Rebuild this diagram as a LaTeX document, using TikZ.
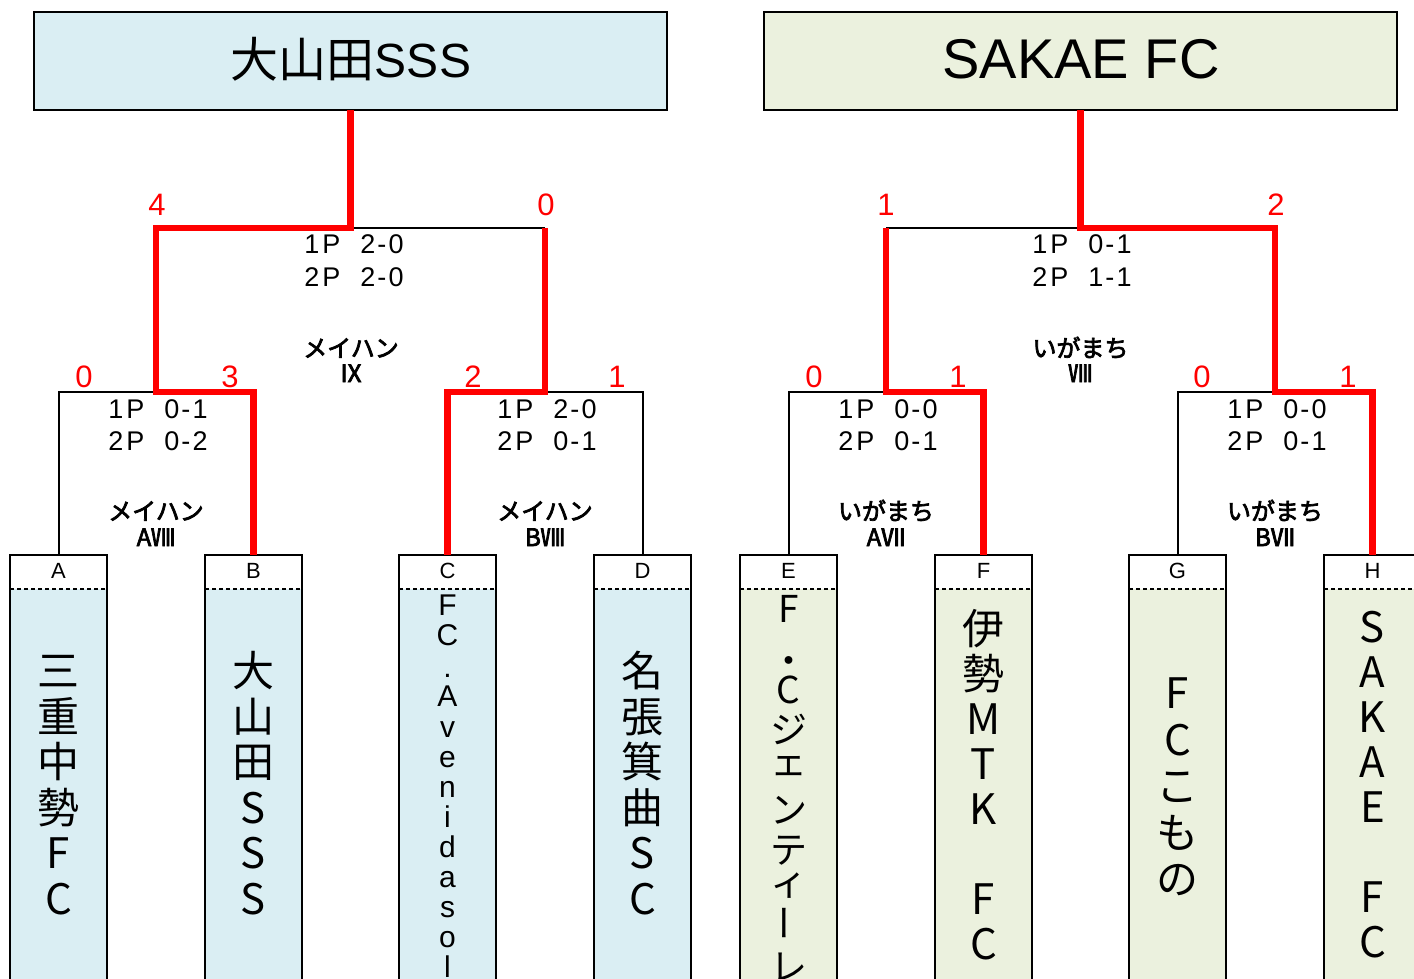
\documentclass[tikz,border=0pt]{standalone}
\usepackage{fontspec}
\setmainfont{Liberation Sans}
\newfontfamily\cjk{Noto Sans CJK JP}
\newfontfamily\cjkv[FakeBold=3]{Noto Sans CJK JP}
\newcommand\fsz[1]{\fontsize{#1}{#1}\selectfont}
\definecolor{blueF}{HTML}{DAEEF3}
\definecolor{greenF}{HTML}{EBF1DE}
\newcommand\scoreln[3]{#1\hspace{3pt}P\hspace{20pt}#2\hspace{2pt}-\hspace{2pt}#3}
\tikzset{
 blk/.style={draw=black,line width=2pt},
 rln/.style={draw=red,line width=6.5pt},
 titlebox/.style={draw=black,line width=2pt,minimum width=633pt,minimum height=98pt,inner sep=0pt,outer sep=0pt},
 titletext/.style={anchor=base,inner sep=0pt},
 tbox/.style={draw=black,line width=1.8pt,minimum width=97pt,minimum height=460pt,anchor=north,inner sep=0pt,outer sep=0pt},
 hdr/.style={anchor=base,inner sep=0pt,font=\fsz{22}},
 dashln/.style={draw=black,line width=1.5pt,dash pattern=on 4pt off 3pt},
 vch/.style={anchor=base,inner sep=0pt,font=\cjk\fsz{42}},
 vchE/.style={anchor=base,inner sep=0pt,font=\cjk\fsz{37},text height=22pt,text depth=0pt},
 vchC/.style={anchor=base,inner sep=0pt,font=\fsz{30},text height=20pt,text depth=0pt},
 rnum/.style={anchor=base,inner sep=0pt,text=red,font=\fsz{31}},
 score/.style={anchor=base,inner sep=0pt,font=\fsz{27}},
 venue/.style={anchor=base,inner sep=0pt,font=\cjkv\fsz{24}},
}
\newcommand\teambox[4]{%
  \fill[#4] ({#2-48.5},589) rectangle ({#2+48.5},1020);
  \node[tbox] (b#1) at (#2,555) {};
  \draw[dashln] ({#2-48.5},589) -- ({#2+48.5},589);
  \node[hdr] (h#1) at (#2,578) {#3};
}
\newcommand\vname[5]{%
  \foreach \ch [count=\i] in {#5} {
    \node[vch] (#1\i) at (#2,{#3+(\i-1)*#4}) {\ch};
  }
}
\begin{document}
\begin{tikzpicture}[x=1pt,y=-1pt]
\useasboundingbox (0,0) rectangle (1414,979);
\clip (0,0) rectangle (1414,979);

% title boxes
\node[titlebox,fill=blueF] (T1) at (350.5,61) {};
\node[titletext,font=\fsz{48}] (T1t) at (351,78) {{\cjk 大山田}SSS};
\node[titlebox,fill=greenF] (T2) at (1080.5,61) {};
\node[titletext,font=\fsz{56}] (T2t) at (1081,79) {SAKAE FC};

% team boxes
\teambox{A}{58.5}{A}{blueF}
\teambox{B}{253.5}{B}{blueF}
\teambox{C}{447.5}{C}{blueF}
\teambox{D}{642.5}{D}{blueF}
\teambox{E}{788.5}{E}{greenF}
\teambox{F}{983.5}{F}{greenF}
\teambox{G}{1177.5}{G}{greenF}
\teambox{H}{1372.5}{H}{greenF}

% team names
\vname{nA}{58.5}{686.5}{45.5}{三,重,中,勢,F,C}
\vname{nB}{253.5}{686.5}{45.5}{大,山,田,S,S,S}
\vname{nD}{642.5}{686.5}{45.5}{名,張,箕,曲,S,C}
\vname{nF}{983.5}{644.5}{45}{伊,勢,M,T,K,{},F,C}
\vname{nH}{1372.5}{642.5}{45}{S,A,K,A,E,{},F,C}
\vname{nG}{1177.5}{708.5}{46.5}{F,C,こ,も,の}
\foreach \yy/\ch [count=\i] in {615/F,645/C,677/.,706/A,737/v,767/e,797/n,827/i,857/d,887/a,917/s,947/o,977/l}
  \node[vchC] (nC\i) at (447.5,\yy) {\ch};
\foreach \yy/\ch [count=\i] in {622/F,674/・,703/C,743/ジ,775/ェ,823/ン,863/テ,895/ィ,980/レ}
  \node[vchE] (nE\i) at (788.5,\yy) {\ch};
\node[inner sep=0pt,font=\cjk\fsz{37},rotate=90,text height=20pt,text depth=0pt] (nEbar) at (788.5,923) {ー};

% junction coordinates
\coordinate (kL) at (156,228);
\coordinate (kR) at (545,228);
\coordinate (jAB) at (156,392);
\coordinate (jCD) at (545,392);
\coordinate (kL2) at (886,228);
\coordinate (kR2) at (1275,228);
\coordinate (jEF) at (886,392);
\coordinate (jGH) at (1275,392);

% black connectors
\draw[blk] (kL) -- (kR);
\draw[blk] (bA.north) |- (bB.north |- jAB);
\draw[blk] (bC.north |- jCD) -| (bD.north);
\draw[blk] (kL2) -- (kR2);
\draw[blk] (bE.north) |- (bF.north |- jEF);
\draw[blk] (bG.north) |- (bH.north |- jGH);

% red connectors
\draw[rln] (T1.south) |- (kL) -- (jAB) -| (bB.north);
\draw[rln] (kR) -- (jCD) -| (bC.north);
\draw[rln] (kL2) -- (jEF) -| (bF.north);
\draw[rln] (T2.south) |- (kR2) -- (jGH) -| (bH.north);

% red scores
\node[rnum] (r1) at (157,215) {4};
\node[rnum] (r2) at (546,215) {0};
\node[rnum] (r3) at (84,387) {0};
\node[rnum] (r4) at (230,387) {3};
\node[rnum] (r5) at (473,387) {2};
\node[rnum] (r6) at (617,387) {1};
\node[rnum] (r7) at (886,215) {1};
\node[rnum] (r8) at (1276,215) {2};
\node[rnum] (r9) at (814,387) {0};
\node[rnum] (r10) at (958,387) {1};
\node[rnum] (r11) at (1202,387) {0};
\node[rnum] (r12) at (1348,387) {1};

% period scores
\node[score] (s1a) at (354,253) {\scoreln{1}{2}{0}};
\node[score] (s1b) at (354,286) {\scoreln{2}{2}{0}};
\node[score] (s2a) at (158,418) {\scoreln{1}{0}{1}};
\node[score] (s2b) at (158,450) {\scoreln{2}{0}{2}};
\node[score] (s3a) at (547,418) {\scoreln{1}{2}{0}};
\node[score] (s3b) at (547,450) {\scoreln{2}{0}{1}};
\node[score] (s4a) at (1082,253) {\scoreln{1}{0}{1}};
\node[score] (s4b) at (1082,286) {\scoreln{2}{1}{1}};
\node[score] (s5a) at (888,418) {\scoreln{1}{0}{0}};
\node[score] (s5b) at (888,450) {\scoreln{2}{0}{1}};
\node[score] (s6a) at (1277,418) {\scoreln{1}{0}{0}};
\node[score] (s6b) at (1277,450) {\scoreln{2}{0}{1}};

% venues
\node[venue] (v1a) at (351,357) {メイハン};
\node[venue] (v1b) at (351,382) {Ⅸ};
\node[venue] (v2a) at (156,520) {メイハン};
\node[venue] (v2b) at (156,546) {AⅧ};
\node[venue] (v3a) at (545,520) {メイハン};
\node[venue] (v3b) at (545,546) {BⅧ};
\node[venue] (v4a) at (1080.5,357) {いがまち};
\node[venue] (v4b) at (1080.5,382) {Ⅷ};
\node[venue] (v5a) at (886,520) {いがまち};
\node[venue] (v5b) at (886,546) {AⅦ};
\node[venue] (v6a) at (1275,520) {いがまち};
\node[venue] (v6b) at (1275,546) {BⅦ};
\end{tikzpicture}
\end{document}
